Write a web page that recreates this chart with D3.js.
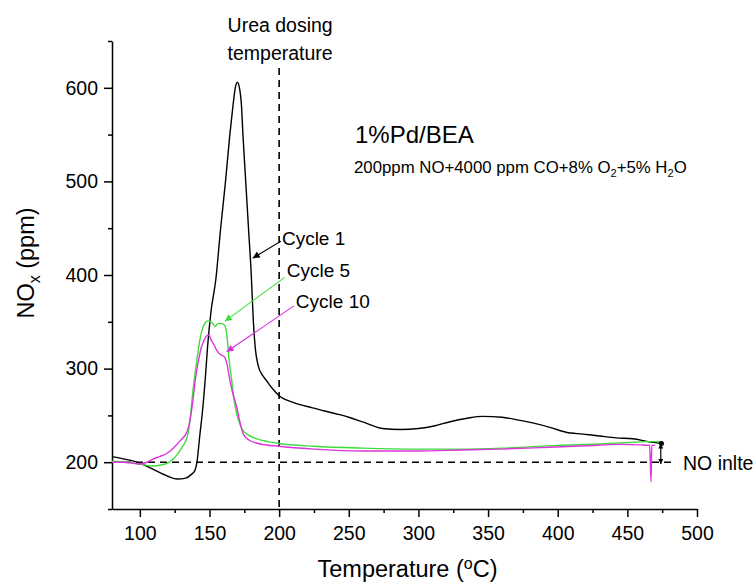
<!DOCTYPE html>
<html>
<head>
<meta charset="utf-8">
<script src="https://cdn.jsdelivr.net/npm/d3@7"></script>
<style>
  body { margin: 0; background: #fff; }
  svg { font-family: "Liberation Sans", Arial, sans-serif; }
  .axis path, .axis line { stroke: #000; stroke-width: 1.5; }
  .axis text { font-size: 19.5px; fill: #000; }
</style>
</head>
<body>
<div id="chart"></div>
<script>
// temperature (oC) / NOx (ppm)
const cycle1T = [80, 90, 100, 110, 120, 127, 133, 137, 139.5, 141, 143, 145, 147, 148.6, 151, 154.6, 158, 161.5, 164.6, 166.8, 168.5, 170, 171.5, 173, 174, 176, 178, 180, 181.5, 183, 185, 188, 191, 195, 200, 210, 224, 240, 250, 260, 274, 287, 300, 312, 322, 335, 346, 360, 372, 382, 395, 406, 418, 430, 442, 454, 465, 474.5];
const cycle1V = [206, 203, 199, 192, 185, 182, 183, 187, 191, 200, 228, 255, 290, 323, 360, 396, 450, 500, 550, 580, 600, 606, 600, 580, 550, 500, 450, 400, 350, 320, 303, 293, 287, 279, 271, 264, 258, 252, 248, 243, 236, 235, 236, 239, 243, 247, 249, 248, 245, 242, 237, 232, 230, 228, 226, 225, 222, 220];

const cycle5T = [80, 90, 100, 109, 115, 120, 125, 129, 132, 134, 136, 138, 141, 143, 145, 147, 149, 152, 154, 156, 159, 161, 162.5, 164, 165.9, 167.5, 169.5, 172, 174, 178, 184, 192, 200, 225, 260, 300, 330, 360, 400, 430, 450, 465, 475];
const cycle5V = [201, 200, 198, 196, 197, 199, 205, 213, 220, 227, 245, 275, 310, 330, 343, 349, 351, 349, 345, 348, 348, 346, 335, 310, 288, 268, 252, 240, 234, 229, 225, 222, 220, 217, 215, 214, 214, 215, 218, 219.5, 221, 222, 222];

const cycle10T = [80, 88, 95, 100, 105, 109, 114, 119, 124, 129, 134, 136, 138, 140, 142, 144, 146, 148, 149.5, 151, 153, 155, 157, 159, 161, 162.5, 164.6, 167, 169.5, 172, 174, 178, 185, 200, 225, 260, 300, 330, 358, 394, 420, 444, 460, 466, 467, 467.5, 470];
const cycle10V = [200, 200, 199, 198, 200, 203, 206, 209, 215, 223, 233, 245, 265, 290, 308, 322, 330, 335, 336, 331, 326, 320, 316, 314, 312, 305, 288, 272, 259, 242, 231, 224, 220, 217, 214, 212, 212, 213, 214, 216, 217.5, 219, 218.5, 218, 179, 218, 218];

const xTicks = [100, 150, 200, 250, 300, 350, 400, 450, 500];
const xMinor = [125, 175, 225, 275, 325, 375, 425, 475];
const yTicks = [200, 300, 400, 500, 600];
const yMinor = [150, 250, 350, 450, 550, 650];

const dosingTemp = 200;
const noInlet = 200;

const width = 755, height = 584;
const margin = {left: 112, right: 58, top: 41, bottom: 75};

const svg = d3.select("#chart").append("svg")
    .attr("width", width)
    .attr("height", height);

const x = d3.scaleLinear().domain([80, 500]).range([margin.left, width - margin.right]);
const y = d3.scaleLinear().domain([150, 650]).range([height - margin.bottom, margin.top]);

// axes
svg.append("g")
    .attr("class", "axis")
    .attr("transform", "translate(0," + y(150) + ")")
    .call(d3.axisBottom(x).tickValues(xTicks).tickSize(8).tickSizeOuter(0).tickPadding(9));
svg.append("g")
    .attr("class", "axis")
    .attr("transform", "translate(0," + y(150) + ")")
    .call(d3.axisBottom(x).tickValues(xMinor).tickSize(4).tickFormat(""))
    .select(".domain").remove();

svg.append("g")
    .attr("class", "axis")
    .attr("transform", "translate(" + x(80) + ",0)")
    .call(d3.axisLeft(y).tickValues(yTicks).tickSize(8).tickSizeOuter(0).tickPadding(6));
svg.append("g")
    .attr("class", "axis")
    .attr("transform", "translate(" + x(80) + ",0)")
    .call(d3.axisLeft(y).tickValues(yMinor).tickSize(4).tickFormat(""))
    .select(".domain").remove();

// axis titles
const xt = svg.append("text")
    .attr("x", (x(80) + x(500)) / 2 + 3)
    .attr("y", 577)
    .attr("text-anchor", "middle")
    .style("font-size", "23.5px");
xt.append("tspan").text("Temperature (");
xt.append("tspan").attr("dy", -8).style("font-size", "16px").text("o");
xt.append("tspan").attr("dy", 8).text("C)");

const yt = svg.append("text")
    .attr("transform", "translate(34," + 263 + ") rotate(-90)")
    .attr("text-anchor", "middle")
    .style("font-size", "23.5px");
yt.append("tspan").text("NO");
yt.append("tspan").attr("dy", 6).style("font-size", "16px").text("x");
yt.append("tspan").attr("dy", -6).text(" (ppm)");

// reference lines
svg.append("line")
    .attr("x1", x(dosingTemp)).attr("x2", x(dosingTemp))
    .attr("y1", 68).attr("y2", y(150))
    .attr("stroke", "#000").attr("stroke-width", 1.6)
    .attr("stroke-dasharray", "7,5");
svg.append("line")
    .attr("x1", x(80)).attr("x2", x(482))
    .attr("y1", y(noInlet)).attr("y2", y(noInlet))
    .attr("stroke", "#000").attr("stroke-width", 1.6)
    .attr("stroke-dasharray", "7,5");

// curves
const line = d3.line()
    .x(d => x(d[0]))
    .y(d => y(d[1]))
    .curve(d3.curveMonotoneX);

const series = [
    {T: cycle1T, V: cycle1V, color: "#000000"},
    {T: cycle5T, V: cycle5V, color: "#3fdc3f"},
    {T: cycle10T, V: cycle10V, color: "#dd33dd"}
];
svg.selectAll(".curve")
    .data(series)
    .enter().append("path")
    .attr("class", "curve")
    .attr("fill", "none")
    .attr("stroke", d => d.color)
    .attr("stroke-width", 1.4)
    .attr("d", d => line(d.T.map((t, i) => [t, d.V[i]])));

svg.append("circle")
    .attr("cx", x(cycle1T[cycle1T.length - 1]))
    .attr("cy", y(cycle1V[cycle1V.length - 1]))
    .attr("r", 2.5)
    .attr("fill", "#000");

// arrow markers
const defs = svg.append("defs");
function marker(id, color, w, h) {
    defs.append("marker")
        .attr("id", id)
        .attr("viewBox", "0 0 10 10")
        .attr("refX", 10).attr("refY", 5)
        .attr("markerWidth", w).attr("markerHeight", h)
        .attr("markerUnits", "userSpaceOnUse")
        .attr("orient", "auto-start-reverse")
        .append("path")
        .attr("d", "M0,0L10,5L0,10Z")
        .attr("fill", color);
}
marker("arrK", "#000", 9, 7);
marker("arrG", "#3fdc3f", 9, 7);
marker("arrM", "#dd33dd", 9, 7);
marker("arrS", "#000", 6, 5);

// cycle labels: [label, tail T, tail V, tip T, tip V, text T, text V, colour, marker]
const labels = [
    ["Cycle 1", 201.2, 436, 181, 418, 202, 432, "#000", "arrK"],
    ["Cycle 5", 204, 397.5, 161, 350.5, 205.5, 398, "#3fdc3f", "arrG"],
    ["Cycle 10", 210.6, 367, 162.3, 318, 212, 364.5, "#dd33dd", "arrM"]
];
labels.forEach(l => {
    svg.append("line")
        .attr("x1", x(l[1])).attr("y1", y(l[2]))
        .attr("x2", x(l[3])).attr("y2", y(l[4]))
        .attr("stroke", l[7]).attr("stroke-width", 1.1)
        .attr("marker-end", "url(#" + l[8] + ")");
    svg.append("text")
        .attr("x", x(l[5])).attr("y", y(l[6]))
        .style("font-size", "19px")
        .text(l[0]);
});

// NO inlet arrow
svg.append("line")
    .attr("x1", x(474)).attr("x2", x(474))
    .attr("y1", y(220)).attr("y2", y(198))
    .attr("stroke", "#000").attr("stroke-width", 1.2)
    .attr("marker-start", "url(#arrS)")
    .attr("marker-end", "url(#arrS)");
svg.append("text")
    .attr("x", 683).attr("y", y(noInlet) + 8)
    .style("font-size", "19.5px")
    .text("NO inlte");

// dosing annotation
svg.append("text")
    .attr("x", x(dosingTemp) + 1).attr("y", 32)
    .attr("text-anchor", "middle")
    .style("font-size", "19.5px")
    .text("Urea dosing");
svg.append("text")
    .attr("x", x(dosingTemp) + 1).attr("y", 60)
    .attr("text-anchor", "middle")
    .style("font-size", "19.5px")
    .text("temperature");

// catalyst / feed
svg.append("text")
    .attr("x", 355).attr("y", 143)
    .style("font-size", "24px")
    .text("1%Pd/BEA");
const feed = svg.append("text")
    .attr("x", 354).attr("y", 173)
    .style("font-size", "16.8px");
feed.append("tspan").text("200ppm NO+4000 ppm CO+8% O");
feed.append("tspan").attr("dy", 4).style("font-size", "11px").text("2");
feed.append("tspan").attr("dy", -4).text("+5% H");
feed.append("tspan").attr("dy", 4).style("font-size", "11px").text("2");
feed.append("tspan").attr("dy", -4).text("O");
</script>
</body>
</html>
